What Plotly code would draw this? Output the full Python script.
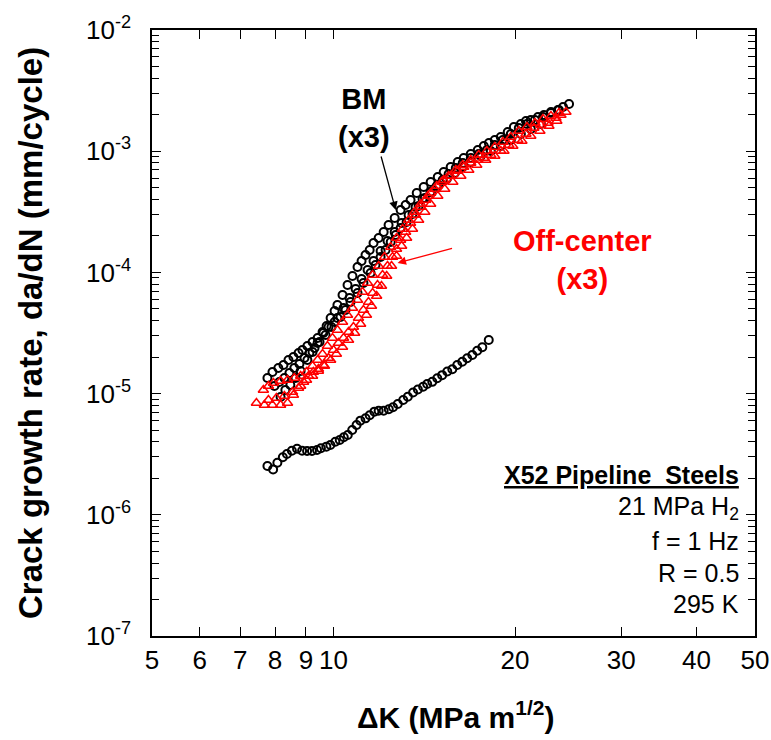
import math
import plotly.graph_objects as go

# ---------------- data ----------------
# BM (x3) - three tests, black open circles
bm1_dk = [7.77,7.92,8.10,8.26,8.42,8.58,8.75,8.88,9.05,9.23,9.41,9.59,9.74,9.89,10.04,10.15,10.35,10.55,10.75,10.96,
          11.13,11.30,11.48,11.65,11.88,12.11,12.34,12.63,12.92,13.17,13.42,13.74,14.11,14.49,14.89,15.23,15.64,16.07,16.44,16.89,
          17.35,17.75,18.10,18.51,18.94,19.45,19.91,20.45,20.85,21.24,21.83,22.33,22.94,23.56,24.02,24.58]
bm1_rate = [1.345e-5,1.507e-5,1.626e-5,1.722e-5,1.894e-5,2.004e-5,2.163e-5,2.289e-5,2.47e-5,2.666e-5,
            2.876e-5,3.223e-5,3.613e-5,4.205e-5,4.803e-5,5.383e-5,6.509e-5,7.87e-5,9.34e-5,1.108e-4,
            1.242e-4,1.392e-4,1.530e-4,1.748e-4,1.922e-4,2.154e-4,2.461e-4,2.811e-4,3.272e-4,3.598e-4,
            3.957e-4,4.521e-4,5.066e-4,5.57e-4,6.125e-4,6.736e-4,7.406e-4,8.145e-4,8.789e-4,9.483e-4,
            1.023e-3,1.104e-3,1.169e-3,1.237e-3,1.31e-3,1.44e-3,1.584e-3,1.677e-3,1.775e-3,1.809e-3,
            1.915e-3,1.989e-3,2.105e-3,2.187e-3,2.315e-3,2.451e-3]

bm2_dk = [8.17,8.32,8.48,8.65,8.82,9.05,9.23,9.41,9.62,9.81,10.04,10.27,10.47,10.67,10.96,11.21,11.52,11.74,11.97,12.20,
          12.44,12.68,12.92,13.22,13.52,13.84,14.17,14.49,14.83,15.17,15.52,15.95,16.38,16.89,17.41,17.96,18.51,19.09,19.68,20.29,
          20.93,21.58,22.25,22.94,23.65]
bm2_rate = [9.37e-6,1.071e-5,1.178e-5,1.345e-5,1.536e-5,1.894e-5,2.204e-5,2.616e-5,3.162e-5,3.544e-5,
            3.897e-5,4.285e-5,4.895e-5,5.698e-5,6.761e-5,8.177e-5,9.886e-5,1.151e-4,1.340e-4,1.530e-4,
            1.781e-4,2.035e-4,2.325e-4,2.605e-4,3.033e-4,3.531e-4,4.111e-4,4.607e-4,5.163e-4,5.786e-4,
            6.485e-4,7.267e-4,7.992e-4,8.789e-4,9.483e-4,1.023e-3,1.125e-3,1.237e-3,1.387e-3,1.554e-3,
            1.677e-3,1.809e-3,1.915e-3,2.066e-3,2.187e-3]

bm3_dk = [7.98,8.13,8.29,8.45,8.61,8.78,8.95,9.12,9.30,9.48,9.70,9.92,10.15,10.39,10.63,10.88,11.13,11.39,11.65,11.97,
          12.29,12.63,12.97,13.32,13.68,14.05,14.49,14.94,15.41,15.89,16.38,16.89,17.55,18.23,18.94,19.68,20.45,21.24,22.07]
bm3_rate = [1.155e-5,1.247e-5,1.345e-5,1.479e-5,1.626e-5,1.755e-5,1.967e-5,2.163e-5,2.378e-5,2.666e-5,
            3.044e-5,3.544e-5,4.205e-5,5.085e-5,6.150e-5,7.295e-5,8.822e-5,1.047e-4,1.242e-4,1.502e-4,
            1.816e-4,2.154e-4,2.556e-4,2.975e-4,3.464e-4,4.033e-4,4.607e-4,5.262e-4,5.896e-4,6.608e-4,
            7.406e-4,8.145e-4,9.13e-4,1.004e-3,1.104e-3,1.237e-3,1.387e-3,1.525e-3,1.677e-3]

# Off-center (x3) - three tests, red open triangles
oc1_dk = [7.45,7.68,7.92,8.17,8.39,8.58,8.75,8.92,9.09,9.26,9.44,9.62,9.81,10.00,10.19,10.39,10.59,10.79,11.00,11.21,
          11.43,11.61,11.83,12.06,12.29,12.53,12.72,12.92,13.17,13.42,13.68,13.95,14.22,14.49,14.83,15.23,15.64,16.07,16.44,16.89,
          17.35,17.75,18.23,18.94,19.53,20.21,20.85,21.49,22.07,22.68,23.38,23.83,24.29]
oc1_rate = [8.36e-6,8.05e-6,8.05e-6,8.05e-6,8.36e-6,9.74e-6,1.112e-5,1.247e-5,1.397e-5,1.507e-5,
            1.596e-5,1.722e-5,1.967e-5,2.289e-5,2.616e-5,2.876e-5,3.223e-5,3.544e-5,4.205e-5,4.895e-5,
            5.698e-5,6.761e-5,7.87e-5,9.517e-5,1.129e-4,1.340e-4,1.560e-4,1.851e-4,2.154e-4,2.556e-4,
            2.975e-4,3.464e-4,3.957e-4,4.521e-4,5.163e-4,5.786e-4,6.244e-4,6.865e-4,7.406e-4,7.992e-4,
            8.46e-4,8.789e-4,9.30e-4,1.004e-3,1.125e-3,1.237e-3,1.387e-3,1.554e-3,1.645e-3,1.709e-3,
            1.879e-3,1.989e-3,2.105e-3]

oc2_dk = [7.65,7.80,7.95,8.17,8.39,8.61,8.82,9.02,9.23,9.41,9.59,9.77,9.96,10.15,10.35,10.55,10.75,10.96,11.17,11.39,
          11.61,11.88,12.15,12.44,12.72,13.02,13.32,13.63,13.95,14.33,14.72,15.12,15.52,15.95,16.38,16.89,17.41,17.96,18.51,19.09,
          19.68,20.29,20.93,21.58,22.25,22.94,23.65]
oc2_rate = [1.071e-5,1.155e-5,1.223e-5,1.271e-5,1.295e-5,1.345e-5,1.397e-5,1.507e-5,1.690e-5,1.894e-5,
            2.122e-5,2.47e-5,2.876e-5,3.348e-5,3.897e-5,4.452e-5,5.085e-5,5.920e-5,6.893e-5,8.177e-5,
            9.517e-5,1.129e-4,1.340e-4,1.620e-4,1.922e-4,2.281e-4,2.705e-4,3.150e-4,3.667e-4,4.270e-4,
            4.876e-4,5.57e-4,6.244e-4,6.998e-4,7.69e-4,8.46e-4,9.30e-4,1.004e-3,1.083e-3,1.191e-3,
            1.31e-3,1.468e-3,1.584e-3,1.709e-3,1.844e-3,1.952e-3,2.066e-3]

oc3_dk = [7.80,8.04,8.29,8.55,8.82,9.02,9.23,9.44,9.66,9.89,10.11,10.35,10.59,10.84,11.09,11.34,11.56,11.79,12.01,12.25,
          12.48,12.72,12.97,13.22,13.52,13.84,14.17,14.49,14.89,15.29,15.77,16.26,16.76,17.28,17.88,18.51,19.17,19.83,20.53,21.24,
          21.99,22.76,23.46]
oc3_rate = [8.86e-6,9.20e-6,9.55e-6,1.031e-5,1.155e-5,1.295e-5,1.397e-5,1.536e-5,1.690e-5,1.894e-5,
            2.122e-5,2.424e-5,2.769e-5,3.162e-5,3.752e-5,4.452e-5,5.283e-5,6.388e-5,7.723e-5,9.34e-5,
            1.129e-4,1.366e-4,1.651e-4,1.922e-4,2.281e-4,2.705e-4,3.150e-4,3.667e-4,4.270e-4,4.876e-4,
            5.57e-4,6.244e-4,6.998e-4,7.69e-4,8.46e-4,9.13e-4,1.004e-3,1.104e-3,1.214e-3,1.335e-3,
            1.468e-3,1.614e-3,1.775e-3]

# lower black series
low_dk = [7.77,7.94,8.07,8.24,8.37,8.53,8.70,8.87,9.04,9.21,9.39,9.53,9.73,9.88,10.07,10.24,10.40,10.56,10.74,10.92,
          11.08,11.30,11.48,11.69,11.88,12.11,12.35,12.55,12.78,13.05,13.28,13.55,13.80,14.08,14.30,14.58,14.86,15.14,15.44,15.74,
          16.04,16.35,16.66,16.99,17.31,17.65,18.09]
low_rate = [2.53e-6,2.37e-6,2.69e-6,2.98e-6,3.17e-6,3.38e-6,3.51e-6,3.38e-6,3.36e-6,3.36e-6,
            3.43e-6,3.54e-6,3.65e-6,3.77e-6,4.01e-6,4.14e-6,4.36e-6,4.55e-6,5.01e-6,5.51e-6,
            5.98e-6,6.25e-6,6.62e-6,7.10e-6,7.23e-6,7.23e-6,7.42e-6,7.71e-6,8.20e-6,8.85e-6,
            9.42e-6,1.02e-5,1.08e-5,1.14e-5,1.20e-5,1.25e-5,1.34e-5,1.42e-5,1.52e-5,1.59e-5,
            1.72e-5,1.83e-5,1.96e-5,2.08e-5,2.26e-5,2.41e-5,2.77e-5]

x_ticks = [5, 6, 7, 8, 9, 10, 20, 30, 40, 50]
x_ticktext = ["5", "6", "7", "8", "9", "10", "20", "30", "40", "50"]
y_exps = [-7, -6, -5, -4, -3, -2]

info_lines = ["21 MPa H<sub>2</sub>", "f = 1 Hz", "R = 0.5", "295 K"]

FONT = "Liberation Sans, Arial, sans-serif"

fig = go.Figure()

black_marker = dict(symbol="circle-open", size=8, color="black", line=dict(width=2, color="black"))
red_marker = dict(symbol="triangle-up-open", size=9, color="red", line=dict(width=1.5, color="red"))

for xs, ys in [(bm1_dk, bm1_rate), (bm2_dk, bm2_rate), (bm3_dk, bm3_rate)]:
    fig.add_trace(go.Scatter(x=xs, y=ys, mode="markers", marker=black_marker, showlegend=False))
for xs, ys in [(oc1_dk, oc1_rate), (oc2_dk, oc2_rate), (oc3_dk, oc3_rate)]:
    fig.add_trace(go.Scatter(x=xs, y=ys, mode="markers", marker=red_marker, showlegend=False))
fig.add_trace(go.Scatter(x=low_dk, y=low_rate, mode="markers", marker=black_marker, showlegend=False))

minor_vals = [m * 10.0 ** e for e in range(-7, -2) for m in range(2, 10)]

fig.update_xaxes(
    type="log", range=[math.log10(5), math.log10(50)], automargin=False,
    tickvals=x_ticks, ticktext=x_ticktext,
    ticks="inside", ticklen=9, tickwidth=1.3, tickcolor="black",
    showline=True, linecolor="black", linewidth=1.5, mirror="ticks",
    showgrid=False, zeroline=False,
    tickfont=dict(family=FONT, size=26, color="black"),
)
fig.update_yaxes(
    type="log", range=[-7, -2], automargin=False,
    tickvals=[10.0 ** e for e in y_exps],
    ticktext=["10<sup>%d</sup>" % e for e in y_exps],
    ticks="inside", ticklen=9, tickwidth=1.3, tickcolor="black",
    minor=dict(ticks="inside", ticklen=7, tickwidth=1.3, tickcolor="black", tickvals=minor_vals, showgrid=False),
    showline=True, linecolor="black", linewidth=1.5, mirror="ticks",
    showgrid=False, zeroline=False,
    ticklabelstandoff=14,
    tickfont=dict(family=FONT, size=26, color="black"),
)

ann = []
# axis titles
ann.append(dict(text="<b>ΔK (MPa m<sup>1/2</sup>)</b>", xref="paper", yref="paper", x=0.5025, y=-0.13,
                xanchor="center", yanchor="middle", showarrow=False,
                font=dict(family=FONT, size=30, color="black")))
ann.append(dict(text="<b>Crack growth rate, da/dN (mm/cycle)</b>", xref="paper", yref="paper", x=-0.2023, y=0.5,
                xanchor="center", yanchor="middle", textangle=-90, showarrow=False,
                font=dict(family=FONT, size=33, color="black")))
# series labels
ann.append(dict(text="<b>BM<br>(x3)</b>", xref="paper", yref="paper", x=(364 - 152) / 603, y=(636 - 118) / 606,
                xanchor="center", yanchor="middle", showarrow=False,
                font=dict(family=FONT, size=29, color="black")))
ann.append(dict(text="<b>Off-center<br>(x3)</b>", xref="paper", yref="paper", x=(582 - 152) / 603, y=(636 - 260) / 606,
                xanchor="center", yanchor="middle", showarrow=False,
                font=dict(family=FONT, size=29, color="red")))
# arrows (heads in data coordinates)
ann.append(dict(x=math.log10(12.68), y=math.log10(3.27e-4), xref="x", yref="y", text="",
                showarrow=True, arrowhead=2, arrowsize=1.3, arrowwidth=1.3, arrowcolor="black",
                ax=-15, ay=-55))
ann.append(dict(x=math.log10(12.77), y=math.log10(1.196e-4), xref="x", yref="y", text="",
                showarrow=True, arrowhead=2, arrowsize=1.3, arrowwidth=1.3, arrowcolor="red",
                ax=56, ay=-15))
# info block
ann.append(dict(text="<b><u>X52 Pipeline  Steels</u></b>", xref="paper", yref="paper", x=(741 - 152) / 603,
                y=(636 - 475) / 606, xanchor="right", yanchor="middle", showarrow=False,
                font=dict(family=FONT, size=25, color="black")))
for line, ypx in zip(info_lines, [508, 541, 573, 604]):
    ann.append(dict(text=line, xref="paper", yref="paper", x=(741 - 152) / 603,
                    y=(636 - ypx) / 606, xanchor="right", yanchor="middle", showarrow=False,
                    font=dict(family=FONT, size=25, color="black")))

fig.update_layout(
    width=771, height=740,
    autosize=False,
    margin=dict(l=152, r=16, t=30, b=104),
    paper_bgcolor="white", plot_bgcolor="white",
    annotations=ann,
    font=dict(family=FONT, color="black"),
)

fig.write_html(
    "out.html",
    config={"responsive": False, "displayModeBar": False},
    post_script="document.body.style.margin='0px';document.body.style.overflow='hidden';",
)
